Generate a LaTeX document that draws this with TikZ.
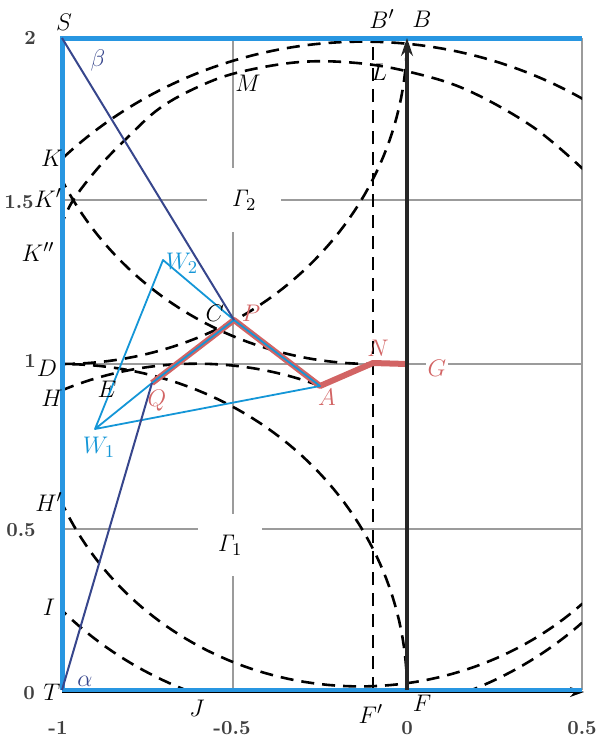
\documentclass[tikz,border=0pt]{standalone}
\usetikzlibrary{arrows.meta}
\definecolor{frameblue}{RGB}{40,150,225}
\definecolor{wblue}{RGB}{20,150,215}
\definecolor{navyl}{RGB}{55,70,140}
\definecolor{redl}{RGB}{210,100,100}
\definecolor{gridgray}{RGB}{155,155,155}
\begin{document}
\begin{tikzpicture}[x=0.5pt,y=-0.5pt,
  dcurve/.style={draw=black, line width=1.3pt, dash pattern=on 6.5pt off 4pt},
  gridline/.style={draw=gridgray, line width=0.6pt},
  lbl/.style={font=\fontsize{12.5}{14}\selectfont, inner sep=0pt},
  ticklbl/.style={font=\fontsize{10}{12}\selectfont\bfseries, text=black!75, inner sep=0pt},
  gammalbl/.style={font=\fontsize{13}{15}\selectfont, fill=white, inner sep=0pt}]
\useasboundingbox (0,0) rectangle (597,741);
% key points (pixel coordinates)
\coordinate (S) at (62,38);
\coordinate (T) at (62,690);
\coordinate (B) at (407,38);
\coordinate (F) at (407,690);
\coordinate (Bp) at (373,38);
\coordinate (Fp) at (373,690);
\coordinate (TR) at (582,38);
\coordinate (BR) at (582,690);
\coordinate (P) at (234,320);
\coordinate (Q) at (152,383);
\coordinate (A) at (320,386);
\coordinate (N) at (373,363);
\coordinate (G) at (407,364);
\coordinate (W1) at (95,429);
\coordinate (W2) at (163,260);
% grid
\draw[gridline] (62,200) -- (582,200);
\draw[gridline] (62,364) -- (582,364);
\draw[gridline] (62,529) -- (582,529);
\draw[gridline] (233,38) -- (233,690);
\draw[gridline] (TR) -- (BR);
% Gamma labels (white gaps in grid)
\node[gammalbl, minimum width=37pt, minimum height=32pt] at (244,200) {$\mathit{\Gamma}_2$};
\node[gammalbl, minimum width=32pt, minimum height=31pt] at (230,545) {$\mathit{\Gamma}_1$};
% dashed curves
\begin{scope}
  \clip (62,38) rectangle (582,690);
  \draw[dcurve] (Fp) -- (Bp);
  \begin{scope}[shift={(407,690)}, x=172.5pt, y=163pt]
    \draw[dcurve] plot[domain=270:360, samples=60] ({-1+cos(\x)}, {2+sin(\x)});
    \draw[dcurve] plot[domain=0:90, samples=60] ({-1+cos(\x)}, {sin(\x)});
    \draw[dcurve] plot[domain=205:270, samples=60] ({-0.1+cos(\x)}, {2+sin(\x)});
    \draw[dcurve] plot[domain=59:136, samples=80] ({-0.127+1.24*cos(\x)}, {0.749+1.24*sin(\x)});
    \draw[dcurve] plot[domain=203:313, samples=80] ({-0.136+0.945*cos(\x)}, {0.956+0.945*sin(\x)});
    \draw[dcurve] plot[domain=223:313, samples=80] ({-0.227+1.077*cos(\x)}, {0.994+1.077*sin(\x)});
    \draw[dcurve] plot[domain=68.4:114, samples=60] ({-0.61+0.974*cos(\x)}, {0.027+0.974*sin(\x)});
  \end{scope}
  \draw[dcurve] plot[smooth, tension=0.6] coordinates {(60,229) (72,202) (98,168) (127,138) (160,108) (200,86) (240,72) (300,62) (357,63) (410,72) (467,90) (533,127) (584,170)};
\end{scope}
% frame
\draw[frameblue, line width=2.5pt] (T) -- (S) -- (TR);
\draw[black, line width=1pt, -{Stealth[length=7pt,width=5pt]}] (62,692) -- (584,692);
\draw[frameblue, line width=2pt] (T) -- (BR);
% path lines
\draw[redl, line width=3pt, line join=round] (Q) -- (P) -- (A) -- (N) -- (G);
\draw[wblue, line width=0.9pt, line join=round] (W1) -- (W2) -- (P) -- (A) -- (W1) -- (Q) -- (P);
\draw[navyl, line width=1pt] (S) -- (P);
\draw[navyl, line width=1pt] (T) -- (Q);
% vertical axis arrow
\draw[black!85, line width=2pt, -{Stealth[length=9pt,width=6pt]}] (F) -- (B);
% tick labels
\node[ticklbl] at (30,38) {2};
\node[ticklbl] at (19,202) {1.5};
\node[ticklbl] at (30,361) {1};
\node[ticklbl] at (21,530) {0.5};
\node[ticklbl] at (29,693) {0};
\node[ticklbl] at (58,728) {-1};
\node[ticklbl] at (232,728) {-0.5};
\node[ticklbl] at (407,728) {0};
\node[ticklbl] at (582,728) {0.5};
% point labels
\node[lbl] at (64,22) {$S$};
\node[lbl] at (382,19) {$B'$};
\node[lbl] at (422,19) {$B$};
\node[lbl] at (248,83) {$M$};
\node[lbl] at (379,72) {$L$};
\node[lbl] at (52,158) {$K$};
\node[lbl] at (48,198) {$K'$};
\node[lbl] at (38,252) {$K''$};
\node[lbl] at (47,368) {$D$};
\node[lbl] at (52,398) {$H$};
\node[lbl] at (49,502) {$H'$};
\node[lbl] at (49,607) {$I$};
\node[lbl] at (52,692) {$T$};
\node[lbl] at (197,708) {$J$};
\node[lbl] at (371,714) {$F'$};
\node[lbl] at (422,703) {$F$};
\node[lbl] at (215,313) {$C$};
\node[lbl] at (107,389) {$E$};
\node[lbl, text=redl] at (251,313) {$P$};
\node[lbl, text=redl] at (157,401) {$Q$};
\node[lbl, text=redl] at (327,397) {$A$};
\node[lbl, text=redl] at (378,348) {$N$};
\node[lbl, text=redl, fill=white, inner sep=1pt] at (437,368) {$G$};
\node[lbl, text=wblue] at (99,447) {$W_1$};
\node[lbl, text=wblue] at (182,263) {$W_2$};
\node[lbl, text=navyl] at (98,60) {$\beta$};
\node[lbl, text=navyl] at (85,681) {$\alpha$};
\end{tikzpicture}
\end{document}
